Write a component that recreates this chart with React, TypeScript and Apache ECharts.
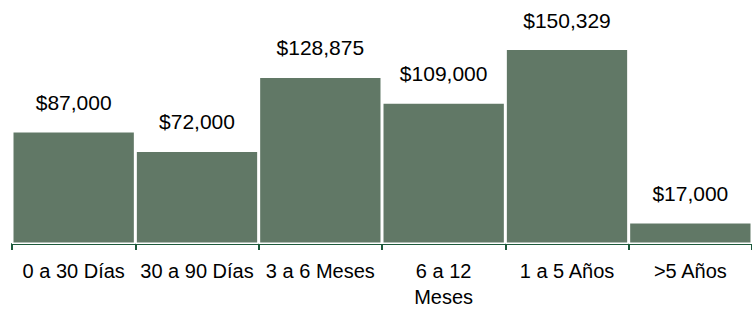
import React, { useEffect, useRef } from "react";
import * as echarts from "echarts";

const categories = ["0 a 30 Días", "30 a 90 Días", "3 a 6 Meses", "6 a 12\nMeses", "1 a 5 Años", ">5 Años"];
const values = [87000, 72000, 128875, 109000, 150329, 17000];

export default function App() {
  const ref = useRef<HTMLDivElement>(null);
  useEffect(() => {
    const chart = echarts.init(ref.current!, null, { renderer: "svg" });
    chart.setOption({
      animation: false,
      grid: { left: 12, right: 0, top: 10, bottom: 67 },
      xAxis: {
        type: "category",
        data: categories,
        axisLine: { lineStyle: { color: "#1d5a3c", width: 2 } },
        axisTick: { show: true, length: 6, lineStyle: { color: "#1d5a3c", width: 2 } },
        axisLabel: {
          color: "#000",
          fontFamily: "Liberation Sans, Arial, sans-serif",
          fontSize: 20,
          margin: 14,
          lineHeight: 26,
          interval: 0,
        },
      },
      yAxis: {
        type: "value",
        min: 0,
        max: 180000,
        show: false,
        splitLine: { show: false },
      },
      series: [
        {
          type: "bar",
          data: values,
          barCategoryGap: "0%",
          itemStyle: { color: "#617866", borderColor: "#ffffff", borderWidth: 1.5 },
          label: {
            show: true,
            position: "top",
            distance: 18,
            color: "#000",
            fontFamily: "Liberation Sans, Arial, sans-serif",
            fontSize: 21,
            formatter: (p: any) => "$" + Number(p.value).toLocaleString("en-US"),
          },
        },
      ],
    });
    return () => chart.dispose();
  }, []);
  return <div ref={ref} style={{ position: "absolute", left: 0, top: 0, width: 752, height: 311 }} />;
}
